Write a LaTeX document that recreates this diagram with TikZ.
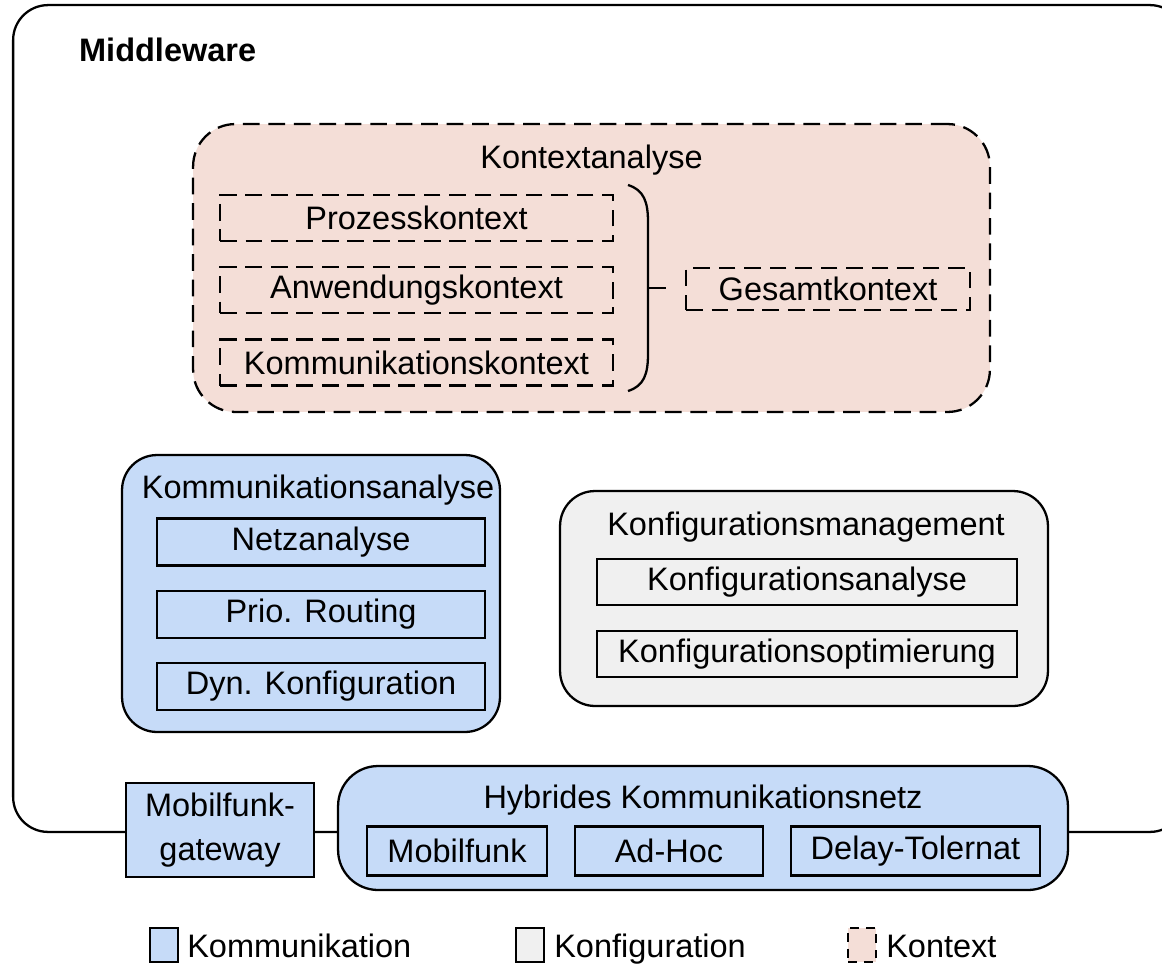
\documentclass[tikz,border=0pt]{standalone}
\usepackage{fontspec}
\setmainfont{Liberation Sans}
\usetikzlibrary{positioning}

\definecolor{kommblau}{RGB}{198,219,248}
\definecolor{konfgrau}{RGB}{240,240,240}
\definecolor{kontextrosa}{RGB}{244,222,215}

\begin{document}
\begin{tikzpicture}[
    x=0.02cm, y=-0.02cm,
    font=\fontsize{18.5}{22}\selectfont,
    line width=1.3pt,
    gruppe/.style={draw, rounded corners=0.7cm, inner sep=0pt},
    modul/.style={draw, minimum height=0.92cm, inner sep=0pt},
    gestrichelt/.style={dash pattern=on 9.5pt off 5pt},
    titel/.style={inner sep=0pt},
    legende/.style={draw, minimum width=0.56cm, minimum height=0.68cm, inner sep=0pt},
    legtext/.style={anchor=west, inner sep=0pt, text height=1.0em, text depth=0.22em, yshift=-0.12cm}
    ]
    \clip (0,0) rectangle (1162,974);

    % Middleware
    \node[gruppe, minimum width=23.44cm, minimum height=16.54cm] (middleware) at (599,418.5) {};
    \node[titel, anchor=west, font=\fontsize{18.5}{22}\selectfont\bfseries] (mwtitel) at (78,50) {Middleware};

    % Kontextanalyse
    \node[gruppe, gestrichelt, fill=kontextrosa, minimum width=15.94cm, minimum height=5.76cm, rounded corners=0.85cm] (kontext) at (591.5,268) {};
    \node[titel] (kontexttitel) at (591.5,160) {Kontextanalyse};
    \node[modul, gestrichelt, minimum width=7.86cm] (prozess) at (416.5,218) {Prozesskontext};
    \node[modul, gestrichelt, minimum width=7.86cm, below=0.48cm of prozess] (anwendung) {Anwendungskontext};
    \node[modul, gestrichelt, minimum width=7.86cm, below=0.48cm of anwendung] (kommkontext) {Kommunikationskontext};
    \node[modul, gestrichelt, minimum width=5.68cm, minimum height=0.84cm] (gesamt) at (828,289) {Gesamtkontext};

    \coordinate (klammer) at (648,288);
    \coordinate (klammerende) at (666,288);
    \draw (628,185) .. controls (644,190) and (648,202) .. (648,222) -- (648,354) .. controls (648,374) and (644,386) .. (628,391);
    \draw (klammer) -- (klammerende);

    % Kommunikationsanalyse
    \node[gruppe, fill=kommblau, minimum width=7.56cm, minimum height=5.54cm] (kommanalyse) at (311,593.5) {};
    \node[titel] (kommtitel) at (318,490) {Kommunikationsanalyse};
    \node[modul, minimum width=6.56cm, minimum height=0.94cm] (netz) at (321,542) {Netzanalyse};
    \node[modul, minimum width=6.56cm, minimum height=0.94cm, below=0.46cm of netz] (routing) {Prio. Routing};
    \node[modul, minimum width=6.56cm, minimum height=0.94cm, below=0.46cm of routing] (dynkonf) {Dyn. Konfiguration};

    % Konfigurationsmanagement
    \node[gruppe, fill=konfgrau, minimum width=9.76cm, minimum height=4.3cm] (konfmgmt) at (804,598.5) {};
    \node[titel] (konftitel) at (806,527) {Konfigurationsmanagement};
    \node[modul, minimum width=8.4cm] (konfanalyse) at (807,582) {Konfigurationsanalyse};
    \node[modul, minimum width=8.4cm, below=0.48cm of konfanalyse] (konfopt) {Konfigurationsoptimierung};

    % Netz
    \node[draw, fill=kommblau, minimum width=3.76cm, minimum height=1.88cm, align=center, inner sep=0pt,
          font=\fontsize{18.5}{25}\selectfont] (gateway) at (220,830) {Mobilfunk-\\gateway};
    \node[gruppe, fill=kommblau, minimum width=14.6cm, minimum height=2.48cm, rounded corners=0.8cm] (hybrid) at (703,828) {};
    \node[titel] (hybridtitel) at (703,800) {Hybrides Kommunikationsnetz};
    \node[modul, minimum width=3.6cm, minimum height=0.98cm] (mobil) at (457,851) {Mobilfunk};
    \node[modul, minimum width=3.76cm, minimum height=0.98cm] (adhoc) at (669,851) {Ad-Hoc};
    \node[modul, minimum width=4.98cm, minimum height=0.98cm] (delay) at (915.5,851) {Delay-Tolernat};

    % Legende
    \node[legende, fill=kommblau] (legkomm) at (164,945) {};
    \node[legtext, right=0.14cm of legkomm] (legkommtext) {Kommunikation};
    \node[legende, fill=konfgrau] (legkonf) at (530,945) {};
    \node[legtext, right=0.16cm of legkonf] (legkonftext) {Konfiguration};
    \node[legende, fill=kontextrosa, dash pattern=on 5pt off 4pt] (legkontext) at (862,945) {};
    \node[legtext, right=0.16cm of legkontext] (legkontexttext) {Kontext};
\end{tikzpicture}
\end{document}
